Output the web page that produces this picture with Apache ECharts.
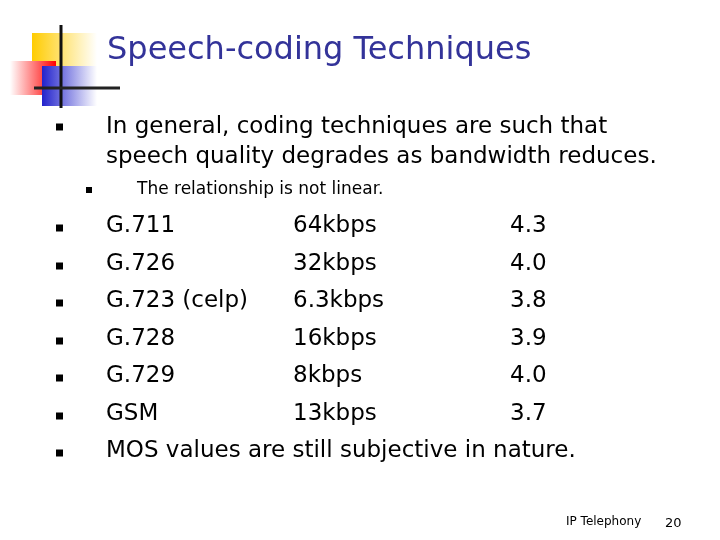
<!DOCTYPE html><html><head><meta charset="utf-8">
<script src="https://cdn.jsdelivr.net/npm/echarts@6/dist/echarts.min.js"></script>
<style>html,body{margin:0;background:#fff}#c{width:720px;height:540px}</style></head><body><div id="c"></div>
<script>
const codecs = ['G.711','G.726','G.723 (celp)','G.728','G.729','GSM'];
const rates = ['64kbps','32kbps','6.3kbps','16kbps','8kbps','13kbps'];
const mos = ['4.3','4.0','3.8','3.9','4.0','3.7'];
const F = 'DejaVu Sans';
const g = [];
const lin = (x1,y1,x2,y2,c1,c2)=>({type:'linear',x:x1,y:y1,x2:x2,y2:y2,colorStops:[{offset:0,color:c1},{offset:1,color:c2}]});
g.push({type:'rect',shape:{x:32,y:33,width:65,height:42},style:{fill:lin(0,0,1,0,'#ffcc00','#ffffff')}});
g.push({type:'rect',shape:{x:10,y:61,width:46,height:34},style:{fill:lin(1,0,0,0,'#ff0000','#ffffff')}});
g.push({type:'rect',shape:{x:42,y:66,width:55,height:40},style:{fill:lin(0,0,1,0,'#2222cc','#ffffff')}});
g.push({type:'line',shape:{x1:61,y1:25,x2:61,y2:108},style:{stroke:'#111',lineWidth:3}});
g.push({type:'line',shape:{x1:34,y1:88,x2:120,y2:88},style:{stroke:'#222',lineWidth:3}});
const txt=(x,y,t,s,c)=>g.push({type:'text',x:x,y:y,style:{text:t,font:s+'px "'+F+'"',fill:c||'#000',textVerticalAlign:'middle'}});
const bul=(x,y,s)=>g.push({type:'rect',shape:{x:x,y:y-s/2,width:s,height:s},style:{fill:'#000'}});
txt(107,51,'Speech-coding Techniques',32,'#333399');
bul(56,127,7);txt(106,127,'In general, coding techniques are such that',23);
txt(106,157,'speech quality degrades as bandwidth reduces.',23);
bul(86,190,6);txt(137,190,'The relationship is not linear.',17);
const ys=[226,264,301,339,376,414];
codecs.forEach((c,i)=>{bul(56,ys[i]+2,7);txt(106,ys[i],c,23);txt(293,ys[i],rates[i],23);txt(510,ys[i],mos[i],23);});
bul(56,453,7);txt(106,451,'MOS values are still subjective in nature.',23);
txt(566,522,'IP Telephony',12);txt(665,524,'20',13);
echarts.init(document.getElementById('c')).setOption({graphic:g});
</script></body></html>
